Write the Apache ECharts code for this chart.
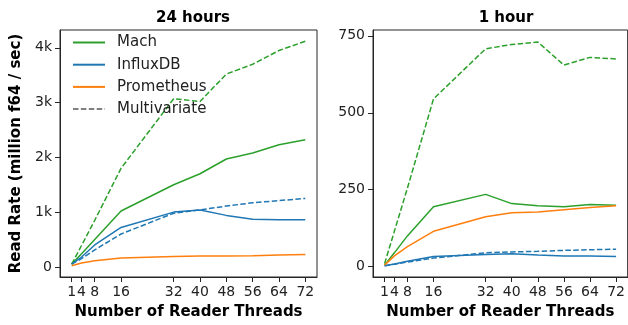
<!DOCTYPE html>
<html>
<head>
<meta charset="utf-8">
<script src="https://cdn.jsdelivr.net/npm/echarts@6/dist/echarts.min.js"></script>
<style>
  html, body { margin: 0; padding: 0; background: #fff; }
  #chart { width: 628px; height: 325px; }
</style>
</head>
<body>
<div id="chart"></div>
<script>
var dom = document.getElementById("chart");
var myChart = echarts.init(dom);

// reader thread counts (x values)
const threads = [1, 4, 8, 16, 32, 40, 48, 56, 64, 72];
const xTicks = [1, 4, 8, 16, 32, 40, 48, 56, 64, 72];

// 24 hours panel
const mach24 = [50, 240, 500, 1020, 1500, 1700, 1970, 2080, 2230, 2320];
const machMulti24 = [50, 390, 850, 1800, 3070, 3020, 3520, 3700, 3950, 4120];
const influx24 = [50, 180, 400, 720, 1000, 1040, 940, 870, 860, 860];
const influxMulti24 = [50, 150, 310, 600, 980, 1040, 1110, 1170, 1210, 1250];
const prom24 = [20, 70, 110, 160, 190, 200, 200, 205, 215, 225];
const yTicks24 = [0, 1000, 2000, 3000, 4000];

// 1 hour panel
const mach1 = [5, 45, 100, 195, 235, 205, 198, 195, 202, 200];
const machMulti1 = [10, 115, 255, 545, 708, 722, 730, 655, 680, 675];
const influx1 = [3, 9, 18, 33, 40, 42, 38, 35, 35, 33];
const influxMulti1 = [3, 8, 15, 28, 45, 48, 50, 53, 55, 57];
const prom1 = [5, 35, 65, 115, 162, 175, 178, 185, 192, 198];
const yTicks1 = [0, 250, 500, 750];

const green = '#2ca02c', blue = '#1f77b4', orange = '#ff7f0e';
const axisColor = '#262626';
const font = 'DejaVu Sans';

function pairs(ys) {
  return threads.map(function (x, i) { return [x, ys[i]]; });
}

function line(name, ys, color, dashed, idx) {
  return {
    name: name,
    type: 'line',
    xAxisIndex: idx,
    yAxisIndex: idx,
    data: pairs(ys),
    symbol: 'none',
    silent: true,
    lineStyle: { color: color, width: 1.5, type: dashed ? [5.5, 2.4] : 'solid' },
    itemStyle: { color: color },
    z: dashed ? 2 : 3
  };
}

function xAxis(idx) {
  return {
    type: 'value',
    gridIndex: idx,
    min: -2.55,
    max: 75.55,
    name: 'Number of Reader Threads',
    nameLocation: 'middle',
    nameGap: 28,
    nameTextStyle: { fontFamily: font, fontWeight: 'bold', fontSize: 15, color: '#000' },
    splitLine: { show: false },
    axisLine: { show: true, onZero: false, lineStyle: { color: axisColor, width: 1 } },
    axisTick: { show: true, length: 5, customValues: xTicks, lineStyle: { color: axisColor } },
    axisLabel: { customValues: xTicks, margin: 8, fontFamily: font, fontSize: 14, color: '#222' }
  };
}

function yAxis(idx, min, max, ticks, fmt, withName) {
  return {
    type: 'value',
    gridIndex: idx,
    min: min,
    max: max,
    name: withName ? 'Read Rate (million f64 / sec)' : '',
    nameLocation: 'middle',
    nameGap: 36,
    nameTextStyle: { fontFamily: font, fontWeight: 'bold', fontSize: 15, color: '#000' },
    splitLine: { show: false },
    axisLine: { show: true, onZero: false, lineStyle: { color: axisColor, width: 1 } },
    axisTick: { show: true, length: 5, customValues: ticks, lineStyle: { color: axisColor } },
    axisLabel: { customValues: ticks, margin: 8, fontFamily: font, fontSize: 14, color: '#222', formatter: fmt }
  };
}

option = {
  animation: false,
  backgroundColor: '#fff',
  title: [
    { text: '24 hours', left: 188, top: 6, textAlign: 'center',
      textStyle: { fontFamily: font, fontWeight: 'bold', fontSize: 15, color: '#000' } },
    { text: '1 hour', left: 501, top: 6, textAlign: 'center',
      textStyle: { fontFamily: font, fontWeight: 'bold', fontSize: 15, color: '#000' } }
  ],
  grid: [
    { left: 60, top: 30, width: 257, height: 247, show: true, borderColor: axisColor, borderWidth: 1 },
    { left: 373, top: 30, width: 257, height: 247, show: true, borderColor: axisColor, borderWidth: 1 }
  ],
  legend: {
    left: 67,
    top: 30,
    orient: 'vertical',
    itemWidth: 32,
    itemHeight: 14,
    itemGap: 7.2,
    selectedMode: false,
    itemStyle: { opacity: 0 },
    textStyle: { fontFamily: font, fontSize: 15, color: '#222', padding: [0, 0, 0, 7] },
    data: ['Mach', 'InfluxDB', 'Prometheus', 'Multivariate']
  },
  xAxis: [xAxis(0), xAxis(1)],
  yAxis: [
    yAxis(0, -185, 4325, yTicks24, function (v) { return v === 0 ? '0' : (v / 1000) + 'k'; }, true),
    yAxis(1, -33.5, 769, yTicks1, function (v) { return String(v); }, false)
  ],
  series: [
    line('Mach', mach24, green, false, 0),
    line('Mach', machMulti24, green, true, 0),
    line('InfluxDB', influx24, blue, false, 0),
    line('InfluxDB', influxMulti24, blue, true, 0),
    line('Prometheus', prom24, orange, false, 0),
    line('Mach', mach1, green, false, 1),
    line('Mach', machMulti1, green, true, 1),
    line('InfluxDB', influx1, blue, false, 1),
    line('InfluxDB', influxMulti1, blue, true, 1),
    line('Prometheus', prom1, orange, false, 1),
    // legend-only entry for dashed style
    { name: 'Multivariate', type: 'line', data: [], symbol: 'none', xAxisIndex: 0, yAxisIndex: 0,
      lineStyle: { color: '#808080', width: 1.5, type: [5.5, 2.4] }, itemStyle: { color: '#808080' } }
  ]
};

if (option && typeof option === "object") {
  myChart.setOption(option, true);
}
</script>
</body>
</html>
